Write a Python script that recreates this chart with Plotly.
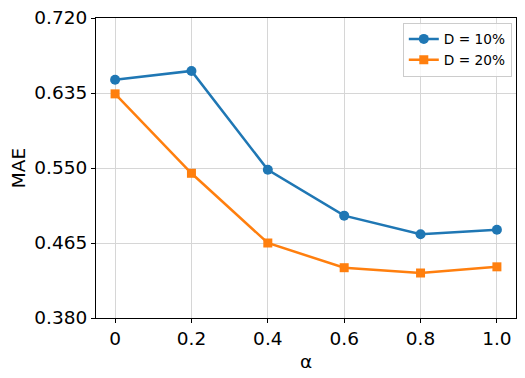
import plotly.graph_objects as go

alpha = [0, 0.2, 0.4, 0.6, 0.8, 1.0]
alpha_labels = ["0", "0.2", "0.4", "0.6", "0.8", "1.0"]
mae_d10 = [0.650, 0.660, 0.548, 0.496, 0.475, 0.480]
mae_d20 = [0.634, 0.544, 0.465, 0.437, 0.431, 0.438]
y_ticks = [0.380, 0.465, 0.550, 0.635, 0.720]

blue = "#1f77b4"
orange = "#ff7f0e"

fig = go.Figure()
fig.add_trace(go.Scatter(
    x=alpha, y=mae_d10, name="D = 10%", mode="lines+markers",
    line=dict(color=blue, width=2.5),
    marker=dict(symbol="circle", size=10, color=blue),
))
fig.add_trace(go.Scatter(
    x=alpha, y=mae_d20, name="D = 20%", mode="lines+markers",
    line=dict(color=orange, width=2.5),
    marker=dict(symbol="square", size=9, color=orange),
))

axis_common = dict(
    showline=True, linecolor="black", linewidth=1, mirror=True,
    ticks="outside", ticklen=4, tickcolor="black",
    showgrid=True, gridcolor="#d6d6d6", gridwidth=1,
    zeroline=False, ticklabeloverflow="allow",
    tickfont=dict(size=18.5, color="black"),
)

fig.update_xaxes(
    range=[-0.05, 1.05], tickvals=alpha, ticktext=alpha_labels,
    title=dict(text="α", font=dict(size=18.5, color="black"), standoff=6),
    **axis_common,
)
fig.update_yaxes(
    range=[0.380, 0.720], tickvals=y_ticks, tickformat=".3f",
    title=dict(text="MAE", font=dict(size=18.5, color="black"), standoff=8),
    **axis_common,
)

# the page body has an 8px margin, so the figure is shrunk by 8px to line up
fig.update_layout(
    width=517, height=370,
    margin=dict(l=88, r=9, t=10, b=60, autoexpand=False),
    plot_bgcolor="white", paper_bgcolor="white",
    font=dict(family="DejaVu Sans", color="black"),
    legend=dict(
        x=0.99, y=0.985, xanchor="right", yanchor="top",
        bgcolor="rgba(255,255,255,0.8)", bordercolor="#cccccc", borderwidth=1,
        font=dict(size=13.7), tracegroupgap=0, itemwidth=30,
    ),
)

fig.write_html("out.html")
